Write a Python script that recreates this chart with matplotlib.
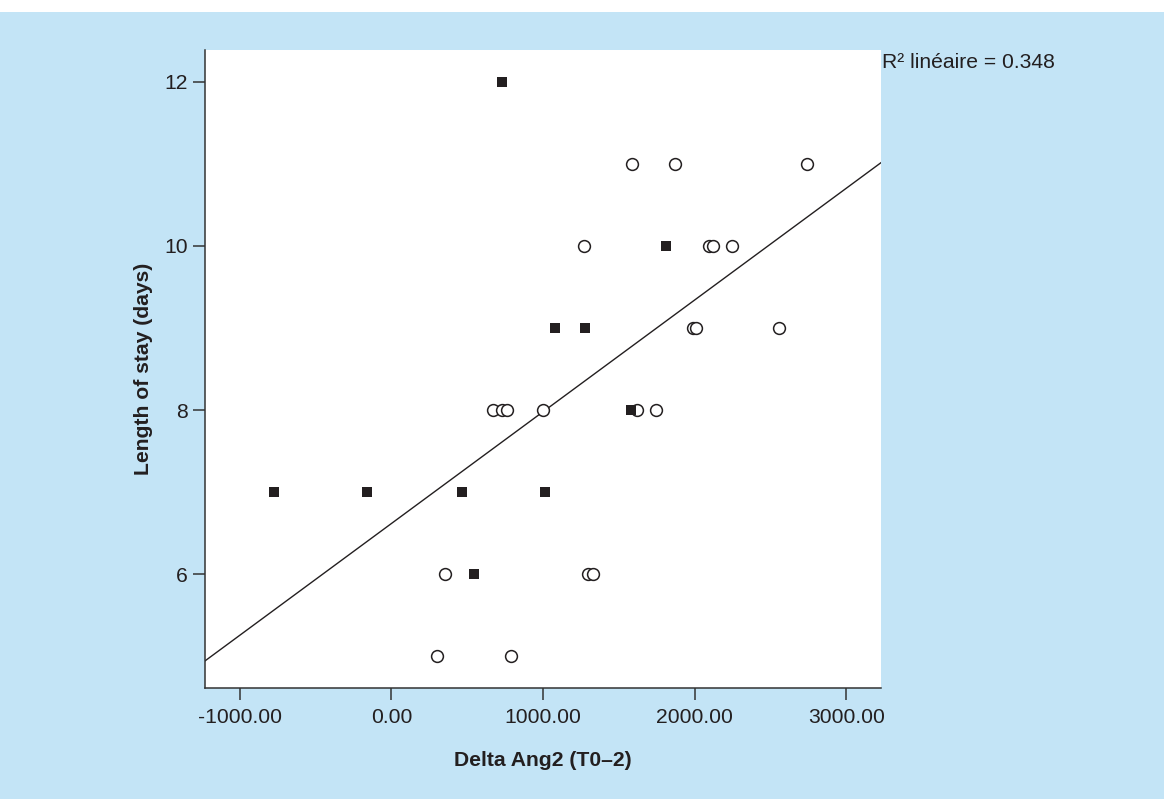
import matplotlib.pyplot as plt
from matplotlib.patches import Rectangle

plt.rcParams['font.family'] = ['Liberation Sans', 'DejaVu Sans']

# filled squares
sq_x = [-774, -160, 466, 546, 730, 1014, 1080, 1278, 1579, 1815]
sq_y = [7, 7, 7, 6, 12, 7, 9, 9, 8, 10]

# open circles
ci_x = [303, 788, 354, 1299, 1332, 673, 728, 761, 999, 1619, 1746,
        1992, 2010, 2557, 1273, 2098, 2124, 2249, 1586, 1871, 2744]
ci_y = [5, 5, 6, 6, 6, 8, 8, 8, 8, 8, 8,
        9, 9, 9, 10, 10, 10, 10, 11, 11, 11]

# fit line
fit_intercept = 6.615
fit_slope = 0.0013626
r2 = 0.348

xlim = (-1229, 3230)
ylim = (4.61, 12.39)
xticks = [-1000, 0, 1000, 2000, 3000]
yticks = [6, 8, 10, 12]

blue = '#C3E4F6'
ink = '#231F20'
fs = 15.2

fig = plt.figure(figsize=(11.64, 7.99), dpi=100, facecolor='white')
fig.patches.append(Rectangle((0, 0), 1, 787 / 799, transform=fig.transFigure,
                             facecolor=blue, edgecolor='none', zorder=-10))

ax = fig.add_axes([205 / 1164, 111 / 799, 676 / 1164, 638 / 799])
ax.set_facecolor('white')

ax.plot(xlim, [fit_intercept + fit_slope * v for v in xlim], color=ink, lw=1.0, zorder=2)
ax.plot(ci_x, ci_y, 'o', ms=8.5, mfc='white', mec=ink, mew=1.1, zorder=3)
ax.plot(sq_x, sq_y, 's', ms=7.2, mfc=ink, mec=ink, mew=0, zorder=4)

ax.set_xlim(xlim)
ax.set_ylim(ylim)
ax.set_xticks(xticks)
ax.set_xticklabels([f'{v:.2f}' for v in xticks])
ax.set_yticks(yticks)

for s in ['top', 'right']:
    ax.spines[s].set_visible(False)
for s in ['left', 'bottom']:
    ax.spines[s].set_color('#333333')
    ax.spines[s].set_linewidth(1.1)

ax.tick_params(direction='out', length=8.5, width=1.1, color='#333333',
               labelsize=fs, labelcolor=ink)
ax.tick_params(axis='x', pad=6)
ax.tick_params(axis='y', pad=4)

ax.set_xlabel('Delta Ang2 (T0\u20132)', fontsize=fs, fontweight='bold', color=ink, labelpad=17)
ax.set_ylabel('Length of stay (days)', fontsize=fs, fontweight='bold', color=ink, labelpad=8)

fig.text(882 / 1164, (799 - 63) / 799, f'R\u00b2 lin\u00e9aire = {r2:.3f}',
         fontsize=fs, color=ink, ha='left', va='center')

fig.savefig('out.png', dpi=100, facecolor=fig.get_facecolor())
